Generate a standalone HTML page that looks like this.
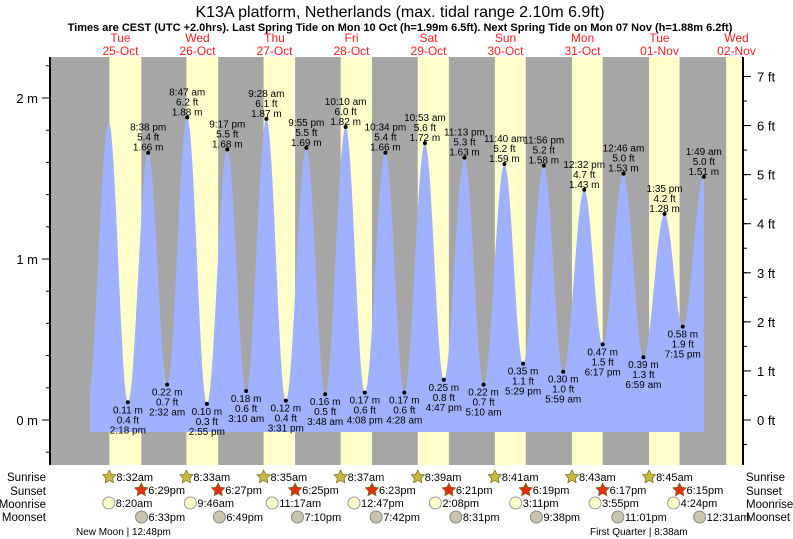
<!DOCTYPE html>
<html><head><meta charset="utf-8"><style>
body{margin:0;background:#fff;}
svg{display:block;font-family:"Liberation Sans",sans-serif;}
</style></head><body>
<svg id="chart" width="793" height="539" viewBox="0 0 793 539">
<text x="400" y="17" font-size="16" text-anchor="middle">K13A platform, Netherlands (max. tidal range 2.10m 6.9ft)</text>
<text x="400" y="31" font-size="11" font-weight="bold" text-anchor="middle">Times are CEST (UTC +2.0hrs). Last Spring Tide on Mon 10 Oct (h=1.99m 6.5ft). Next Spring Tide on Mon 07 Nov (h=1.88m 6.2ft)</text>
<g id="bg"></g><g id="tide"></g><g id="lbl" font-size="10" text-anchor="middle"></g><g id="axes"></g><g id="bottom" font-size="11"></g>
</svg>
<script>
const dayNames=["Tue","Wed","Thu","Fri","Sat","Sun","Mon","Tue","Wed"];
const dayDates=["25-Oct","26-Oct","27-Oct","28-Oct","29-Oct","30-Oct","31-Oct","01-Nov","02-Nov"];
const sunrise=["8:32am","8:33am","8:35am","8:37am","8:39am","8:41am","8:43am","8:45am","8:47am"];
const sunset=["6:29pm","6:27pm","6:25pm","6:23pm","6:21pm","6:19pm","6:17pm","6:15pm"];
const moonrise=["8:20am","9:46am","11:17am","12:47pm","2:08pm","3:11pm","3:55pm","4:24pm"];
const moonset=["6:33pm","6:49pm","7:10pm","7:42pm","8:31pm","9:38pm","11:01pm","12:31am"];
const moonsetDay=[0,1,2,3,4,5,6,8];
const tideDay=[0,0,0,0,1,1,1,1,2,2,2,2,3,3,3,3,4,4,4,4,5,5,5,5,6,6,6,7,7,7,7,8];
const tideTime=["1:45 am","8:20 am","2:18 pm","8:38 pm","2:32 am","8:47 am","2:55 pm","9:17 pm","3:10 am","9:28 am","3:31 pm","9:55 pm","3:48 am","10:10 am","4:08 pm","10:34 pm","4:28 am","10:53 am","4:47 pm","11:13 pm","5:10 am","11:40 am","5:29 pm","11:56 pm","5:59 am","12:32 pm","6:17 pm","12:46 am","6:59 am","1:35 pm","7:15 pm","1:49 am"];
const tideM=[0.12,1.85,0.11,1.66,0.22,1.88,0.10,1.68,0.18,1.87,0.12,1.69,0.16,1.82,0.17,1.66,0.17,1.72,0.25,1.63,0.22,1.59,0.35,1.58,0.30,1.43,0.47,1.53,0.39,1.28,0.58,1.51];
const tideFt=["0.4","6.1","0.4","5.4","0.7","6.2","0.3","5.5","0.6","6.1","0.4","5.5","0.5","6.0","0.6","5.4","0.6","5.6","0.8","5.3","0.7","5.2","1.1","5.2","1.0","4.7","1.5","5.0","1.3","4.2","1.9","5.0"];
const tideShow=[0,0,1,1,1,1,1,1,1,1,1,1,1,1,1,1,1,1,1,1,1,1,1,1,1,1,1,1,1,1,1,1];
const mTicks=[0,1,2], ftTicks=[0,1,2,3,4,5,6,7];

const NS="http://www.w3.org/2000/svg";
const X0=82, PXDAY=77, L=50, R=743, T=57, B=465, Y0=420, PXM=161;
function hrs(s){const m=s.match(/(\d+):(\d+)\s*(am|pm)/);let h=+m[1]%12;if(m[3]=="pm")h+=12;return h+ +m[2]/60;}
function xT(d,s){return X0+(d+hrs(s)/24)*PXDAY;}
function yM(v){return Y0-v*PXM;}
function yF(f){return Y0-f*0.3048*PXM;}
function el(p,tag,attrs,name,txt){const e=document.createElementNS(NS,tag);for(const k in attrs)e.setAttribute(k,attrs[k]);


if(txt!==undefined)e.textContent=txt;p.appendChild(e);return e;}
const bg=document.getElementById('bg'),tide=document.getElementById('tide'),lbl=document.getElementById('lbl'),ax=document.getElementById('axes'),bot=document.getElementById('bottom');
el(bg,'rect',{x:L,y:T,width:R-L,height:B-T,fill:'#a6a6a6'},'night-background');
for(let d=0;d<9;d++){
  const x1=xT(d,sunrise[d]); const x2=d<sunset.length?xT(d,sunset[d]):R;
  el(bg,'rect',{x:x1,y:T,width:Math.min(x2,R)-x1,height:B-T,fill:'#ffffcc'},'daylight-band');
  const cx=X0+(d+0.5)*PXDAY;
  el(bg,'text',{x:cx,y:42,'font-size':12,fill:'#ff2020','text-anchor':'middle'},'day-label',dayNames[d]);
  el(bg,'text',{x:cx,y:55,'font-size':12,fill:'#ff2020','text-anchor':'middle'},'date-label',dayDates[d]);
}
const tx=tideTime.map((t,i)=>xT(tideDay[i],t));
const xs=90, xe=tx[tx.length-1], yb=432;
let pts=[];
for(let x=xs;x<=xe;x+=1){
  let i=0;while(i<tx.length-2&&tx[i+1]<x)i++;
  const f=Math.max(0,Math.min(1,(x-tx[i])/(tx[i+1]-tx[i])));
  const v=tideM[i]+(tideM[i+1]-tideM[i])*(1-Math.cos(Math.PI*f))/2;
  pts.push(x.toFixed(1)+','+yM(v).toFixed(1));
}
pts.push(xe+','+yM(tideM[tideM.length-1]).toFixed(1));
el(tide,'polygon',{points:xs+','+yb+' '+pts.join(' ')+' '+xe+','+yb,fill:'#a0b2ff'},'tide-area');
for(let i=0;i<tx.length;i++){
  if(!tideShow[i])continue;
  const x=tx[i],y=yM(tideM[i]);
  const high=tideM[i]>1;
  el(tide,'circle',{cx:x,cy:y,r:2,fill:'#000'},high?'high-tide-point':'low-tide-point');
  const ls=high?[[tideTime[i],-22],[tideFt[i]+' ft',-12],[tideM[i].toFixed(2)+' m',-2]]:[[tideM[i].toFixed(2)+' m',11],[tideFt[i]+' ft',21],[tideTime[i],31]];
  for(const [t,dy] of ls) el(lbl,'text',{x:x,y:y+dy},'tide-label',t);
}
el(ax,'line',{x1:L,y1:T,x2:L,y2:B,stroke:'#000','stroke-width':2},'left-axis');
el(ax,'line',{x1:R,y1:T,x2:R,y2:B,stroke:'#000','stroke-width':2},'right-axis');
for(let v=-0.2;v<=2.21;v+=0.2){const y=yM(v);if(y<T||y>B)continue;el(ax,'line',{x1:L-4,y1:y,x2:L,y2:y,stroke:'#000'},'m-tick');}
for(const m of mTicks){el(ax,'line',{x1:L-8,y1:yM(m),x2:L,y2:yM(m),stroke:'#000'},'m-tick-major');
 el(ax,'text',{x:L-12,y:yM(m)+5,'font-size':13,'text-anchor':'end'},'m-tick-label',m+' m');}
for(let f=-0.5;f<=7.6;f+=0.5){const y=yF(f);if(y<T||y>B)continue;el(ax,'line',{x1:R,y1:y,x2:R+4,y2:y,stroke:'#000'},'ft-tick');}
for(const f of ftTicks){el(ax,'line',{x1:R,y1:yF(f),x2:R+8,y2:yF(f),stroke:'#000'},'ft-tick-major');
 el(ax,'text',{x:R+14,y:yF(f)+5,'font-size':13},'ft-tick-label',f+' ft');}
const rows=[["Sunrise",481],["Sunset",495],["Moonrise",508],["Moonset",521]];
for(const [n,y] of rows){el(bot,'text',{x:46,y:y,'text-anchor':'end','font-size':11.5},'row-label-left',n);
 el(bot,'text',{x:746,y:y,'font-size':11.5},'row-label-right',n);}
function star(x,y,fill,name){let p=[];for(let k=0;k<10;k++){const r=k%2?3.5:7,a=-Math.PI/2+k*Math.PI/5;p.push((x+r*Math.cos(a)).toFixed(1)+','+(y+r*Math.sin(a)).toFixed(1));}
 el(bot,'polygon',{points:p.join(' '),fill:fill,stroke:'#776a20','stroke-width':0.7},name);}
for(let d=0;d<8;d++){
 let x=xT(d,sunrise[d]);star(x,477,'#c8b840','sunrise-icon');el(bot,'text',{x:x+7,y:481},'sunrise-time',sunrise[d]);
 x=xT(d,sunset[d]);star(x,490,'#e03010','sunset-icon');el(bot,'text',{x:x+7,y:494},'sunset-time',sunset[d]);
 x=xT(d,moonrise[d]);el(bot,'circle',{cx:x,cy:503,r:6,fill:'#ffffcc',stroke:'#999'},'moonrise-icon');el(bot,'text',{x:x+7,y:507},'moonrise-time',moonrise[d]);
 x=xT(moonsetDay[d],moonset[d]);el(bot,'circle',{cx:x,cy:517,r:6,fill:'#c8c4b0',stroke:'#888'},'moonset-icon');el(bot,'text',{x:x+7,y:521},'moonset-time',moonset[d]);
}
el(bot,'text',{x:76,y:535,'font-size':10},'new-moon-label','New Moon | 12:48pm');
el(bot,'text',{x:590,y:535,'font-size':10},'first-quarter-label','First Quarter | 8:38am');
</script>
</body></html>
